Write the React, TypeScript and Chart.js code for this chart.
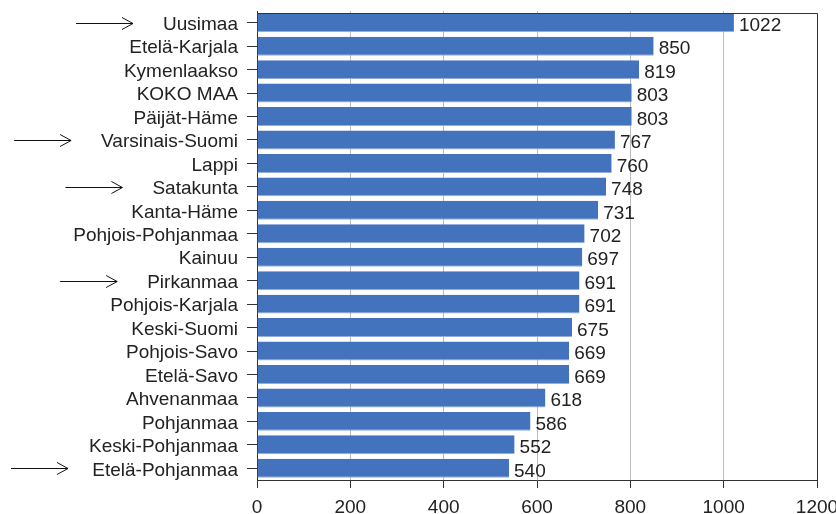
import React, { useEffect, useRef } from "react";
import { Chart, registerables } from "chart.js";

Chart.register(...registerables);

const categories = [
  "Uusimaa", "Etelä-Karjala", "Kymenlaakso", "KOKO MAA", "Päijät-Häme",
  "Varsinais-Suomi", "Lappi", "Satakunta", "Kanta-Häme", "Pohjois-Pohjanmaa",
  "Kainuu", "Pirkanmaa", "Pohjois-Karjala", "Keski-Suomi", "Pohjois-Savo",
  "Etelä-Savo", "Ahvenanmaa", "Pohjanmaa", "Keski-Pohjanmaa", "Etelä-Pohjanmaa",
];
const values = [1022, 850, 819, 803, 803, 767, 760, 748, 731, 702, 697, 691, 691, 675, 669, 669, 618, 586, 552, 540];
const arrowRows = ["Uusimaa", "Varsinais-Suomi", "Satakunta", "Pirkanmaa", "Etelä-Pohjanmaa"];
const xMin = 0;
const xMax = 1200;
const xStep = 200;

const FONT = "Liberation Sans, Arial, sans-serif";
const FS = 19;

export default function App() {
  const ref = useRef<HTMLCanvasElement | null>(null);
  useEffect(() => {
    if (!ref.current) return;
    const extras = {
      id: "extras",
      afterDatasetsDraw(chart: any) {
        const ctx = chart.ctx;
        const meta = chart.getDatasetMeta(0);
        ctx.save();
        ctx.font = `${FS}px ${FONT}`;
        ctx.fillStyle = "#222";
        ctx.textAlign = "left";
        ctx.textBaseline = "middle";
        meta.data.forEach((bar: any, i: number) => {
          ctx.fillText(String(values[i]), bar.x + 5, bar.y + 3);
        });
        ctx.restore();
      },
      afterDraw(chart: any) {
        const ctx = chart.ctx;
        const a = chart.chartArea;
        ctx.save();
        ctx.strokeStyle = "#333";
        ctx.lineWidth = 1;
        ctx.beginPath();
        ctx.moveTo(a.left, 13.5);
        ctx.lineTo(a.right + 0.5, 13.5);
        ctx.lineTo(a.right + 0.5, a.bottom);
        ctx.stroke();
        ctx.restore();

        ctx.save();
        const ys = chart.scales.y;
        ctx.font = `${FS}px ${FONT}`;
        ctx.strokeStyle = "#111";
        ctx.lineWidth = 1;
        arrowRows.forEach((name) => {
          const idx = categories.indexOf(name);
          if (idx < 0) return;
          const w = ctx.measureText(name).width;
          const labelStart = a.left - 19 - w;
          const end = Math.max(68, labelStart - 30);
          const start = end - 57;
          const y = Math.round(ys.getPixelForValue(idx)) + 0.5;
          ctx.beginPath();
          ctx.moveTo(start, y);
          ctx.lineTo(end, y);
          ctx.moveTo(end - 11, y - 6);
          ctx.lineTo(end, y);
          ctx.lineTo(end - 11, y + 6);
          ctx.stroke();
        });
        ctx.restore();
      },
    };
    const chart = new Chart(ref.current, {
      type: "bar",
      data: {
        labels: categories,
        datasets: [
          {
            data: values,
            backgroundColor: "#4473BD",
            borderColor: "#93AEDC",
            borderWidth: { top: 0, left: 0, right: 0, bottom: 1 } as any,
            borderSkipped: false,
            barPercentage: 0.81,
            categoryPercentage: 1,
          },
        ],
      },
      options: {
        indexAxis: "y",
        responsive: false,
        animation: false,
        layout: { autoPadding: false, padding: { top: 11, right: 19, left: 0, bottom: 0 } },
        plugins: { legend: { display: false }, tooltip: { enabled: false } },
        scales: {
          x: {
            min: xMin,
            max: xMax,
            z: 1,
            ticks: {
              stepSize: xStep,
              color: "#222",
              font: { family: FONT, size: FS },
              padding: 8,
              maxRotation: 0,
              callback: (v: any) => String(v),
            },
            grid: {
              color: (c: any) => (c.tick && (c.tick.value === 0 || c.tick.value === 1200) ? "rgba(0,0,0,0)" : "rgba(165,165,165,0.75)"),
              tickColor: "#333",
              tickLength: 8,
            },
            border: { color: "#333", width: 1 },
            afterFit(s: any) {
              s.height = 34;
              s.paddingLeft = 0;
              s.paddingRight = 0;
            },
          },
          y: {
            ticks: {
              color: "#222",
              font: { family: FONT, size: FS },
              padding: 9,
              labelOffset: 2,
              autoSkip: false,
            },
            grid: {
              offset: false,
              drawOnChartArea: false,
              tickColor: "#333",
              tickLength: 10,
            },
            border: { color: "#333", width: 1 },
            afterFit(s: any) {
              s.width = 257;
              s.paddingTop = 0;
              s.paddingBottom = 0;
            },
          },
        },
      },
      plugins: [extras],
    } as any);
    return () => chart.destroy();
  }, []);
  return (
    <div style={{ position: "absolute", left: 0, top: 0, width: 836, height: 514, background: "#fff" }}>
      <canvas ref={ref} width={836} height={514} />
    </div>
  );
}
